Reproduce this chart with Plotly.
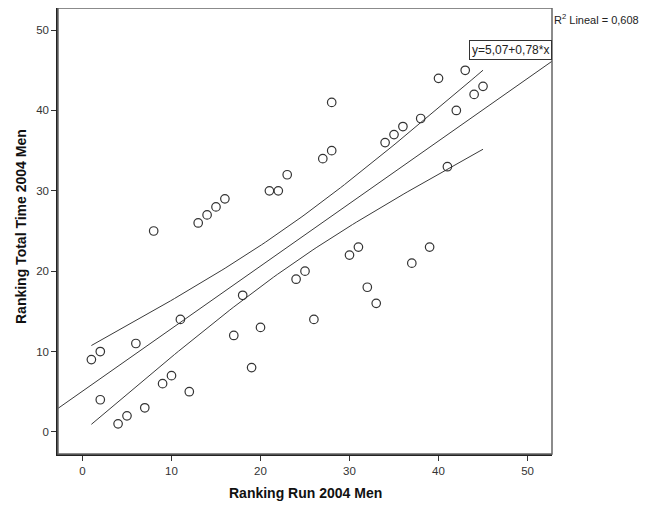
import numpy as np
import plotly.graph_objects as go

# Data: ranking run (x) vs ranking total time (y), 2004 men
run_rank = [1, 2, 2, 4, 5, 7, 6, 9, 10, 11, 12, 17, 18, 19, 20, 24, 25, 26,
            30, 31, 37, 32, 33, 39, 8, 13, 14, 15, 16, 21, 22, 23, 27, 28, 28,
            34, 35, 36, 38, 40, 43, 42, 44, 45, 41]
total_rank = [9, 10, 4, 1, 2, 3, 11, 6, 7, 14, 5, 12, 17, 8, 13, 19, 20, 14,
              22, 23, 21, 18, 16, 23, 25, 26, 27, 28, 29, 30, 30, 32, 34, 35, 41,
              36, 37, 38, 39, 44, 45, 40, 42, 43, 33]
x_ticks = [0, 10, 20, 30, 40, 50]
y_ticks = [0, 10, 20, 30, 40, 50]
eq_label = "y=5,07+0,78*x"
r2_label = "R<sup>2</sup> Lineal = 0,608"
x_title = "Ranking Run 2004 Men"
y_title = "Ranking Total Time 2004 Men"

AX_RANGE = [-2.75, 52.75]
T_CRIT = 2.0167  # t(0.975, df=43)

x = np.array(run_rank, dtype=float)
y = np.array(total_rank, dtype=float)
n = len(x)
b1, b0 = np.polyfit(x, y, 1)
resid = y - (b0 + b1 * x)
s = np.sqrt(np.sum(resid ** 2) / (n - 2))
xbar = x.mean()
sxx = np.sum((x - xbar) ** 2)

xf = np.linspace(AX_RANGE[0], AX_RANGE[1], 2)
yf = b0 + b1 * xf
xb = np.linspace(x.min(), x.max(), 100)
yb = b0 + b1 * xb
hw = T_CRIT * s * np.sqrt(1.0 / n + (xb - xbar) ** 2 / sxx)

line_col = "#3a3a3a"
fig = go.Figure()
fig.add_trace(go.Scatter(x=xf, y=yf, mode="lines",
                         line=dict(color=line_col, width=1), hoverinfo="skip"))
fig.add_trace(go.Scatter(x=xb, y=yb + hw, mode="lines",
                         line=dict(color=line_col, width=1), hoverinfo="skip"))
fig.add_trace(go.Scatter(x=xb, y=yb - hw, mode="lines",
                         line=dict(color=line_col, width=1), hoverinfo="skip"))
fig.add_trace(go.Scatter(x=x, y=y, mode="markers",
                         marker=dict(symbol="circle-open", size=8.5,
                                     color="#333333", line=dict(width=1.2))))

fig.add_shape(type="rect", xref="paper", yref="paper", x0=0, y0=0, x1=1, y1=1,
              line=dict(color="#666666", width=1.5), layer="above")

fig.add_annotation(x=AX_RANGE[1], y=47.5, xref="x", yref="y",
                   xanchor="right", yanchor="middle", text=eq_label,
                   showarrow=False, font=dict(size=12, color="#222222"),
                   bordercolor="#333333", borderwidth=1, borderpad=2,
                   bgcolor="white")
fig.add_annotation(x=1.0, y=1.0, xref="paper", yref="paper",
                   xanchor="left", yanchor="top", xshift=0, yshift=-2,
                   text=r2_label, showarrow=False,
                   font=dict(size=11, color="#222222"))

# axis titles as annotations (fixed placement)
fig.add_annotation(x=0.5, y=0, xref="paper", yref="paper",
                   xanchor="center", yanchor="middle", yshift=-39,
                   text="<b>" + x_title + "</b>", showarrow=False,
                   font=dict(size=14, color="#111111"))
fig.add_annotation(x=0, y=0.5, xref="paper", yref="paper",
                   xanchor="center", yanchor="middle", xshift=-37, yshift=4,
                   textangle=-90,
                   text="<b>" + y_title + "</b>", showarrow=False,
                   font=dict(size=14, color="#111111"))

axis_common = dict(range=AX_RANGE, showgrid=False, zeroline=False,
                   showline=True, linecolor="#222222", linewidth=1.5,
                   ticks="outside", ticklen=5, tickwidth=1.2, tickcolor="#333333",
                   tickfont=dict(size=11.5, color="#333333"), automargin=False)

# page body adds an 8px offset, so the figure is 8px smaller and margins shifted
fig.update_layout(
    width=650, height=499,
    margin=dict(l=50, r=106, t=0, b=53),
    paper_bgcolor="white", plot_bgcolor="white",
    showlegend=False,
    font=dict(family="Liberation Sans, Arial, sans-serif"),
    xaxis=dict(**axis_common, tickvals=x_ticks),
    yaxis=dict(**axis_common, tickvals=y_ticks),
)

fig.write_html("out.html")
